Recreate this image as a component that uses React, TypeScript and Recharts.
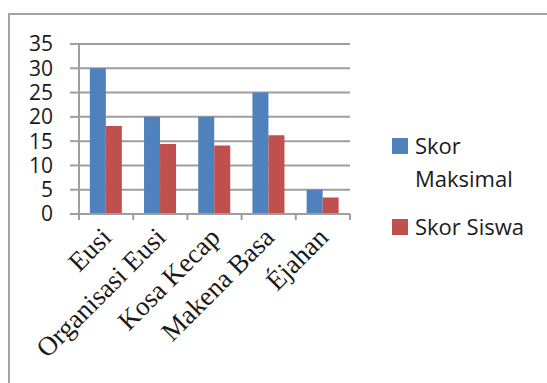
import { BarChart, Bar, XAxis, YAxis, CartesianGrid, Legend } from 'recharts';

const categories = ['Eusi', 'Organisasi Eusi', 'Kosa Kecap', 'Makena Basa', 'Éjahan'];
const skorMaksimal = [30, 20, 20, 25, 5];
const skorSiswa = [18.1, 14.4, 14.1, 16.2, 3.4];
const yTicks = [0, 5, 10, 15, 20, 25, 30, 35];

const seriesNames = { maks: 'Skor Maksimal', siswa: 'Skor Siswa' };
const BLUE = '#4f81bd';
const RED = '#c0504d';
const GRID = '#9e9e9e';
const SANS = "'Open Sans', sans-serif";

const data = categories.map((name, i) => ({
  name,
  maks: skorMaksimal[i],
  siswa: skorSiswa[i],
}));

const CHART_W = 547;
const CHART_H = 383;
const margin = { top: 44, right: 197, left: 0, bottom: 0 };
const Y_AXIS_W = 79;
const plotWidth = CHART_W - margin.left - margin.right - Y_AXIS_W;
const band = plotWidth / categories.length;

// category label rotated 45°, plus tick marks on the band edges
function CategoryTick(props: any) {
  const { x, y, payload, index } = props;
  const left = x - band / 2;
  const tx = x + 7;
  const ty = y + 25;
  return (
    <g>
      <line x1={left} y1={y} x2={left} y2={y + 6} stroke={GRID} strokeWidth={2} />
      {index === categories.length - 1 && (
        <line x1={x + band / 2} y1={y} x2={x + band / 2} y2={y + 6} stroke={GRID} strokeWidth={2} />
      )}
      <text
        x={tx}
        y={ty}
        transform={`rotate(-45, ${tx}, ${ty})`}
        textAnchor="end"
        fontFamily="'Liberation Serif', 'Times New Roman', serif"
        fontSize={27}
        fill="#1a1a1a"
      >
        {payload.value}
      </text>
    </g>
  );
}

function LegendBox() {
  const items = [
    { label: seriesNames.maks, color: BLUE },
    { label: seriesNames.siswa, color: RED },
  ];
  return (
    <div style={{ width: 150, fontFamily: SANS, fontSize: 22, color: '#1a1a1a' }}>
      {items.map((it, i) => (
        <div key={it.label} style={{ display: 'flex', alignItems: 'flex-start', marginTop: i ? 15 : 0 }}>
          <span
            style={{
              display: 'inline-block',
              width: 16,
              height: 16,
              background: it.color,
              marginTop: 9,
              marginRight: 7,
              flexShrink: 0,
            }}
          />
          <span style={{ width: 112, lineHeight: '33px' }}>{it.label}</span>
        </div>
      ))}
    </div>
  );
}

export default function App() {
  return (
    <div style={{ position: 'absolute', left: 0, top: 0, width: CHART_W, height: CHART_H, background: '#fff', overflow: 'hidden' }}>
      <div
        style={{
          position: 'absolute',
          left: 8,
          top: 13,
          width: CHART_W,
          height: CHART_H,
          borderLeft: '2px solid #a3a3a3',
          borderTop: '2px solid #a3a3a3',
        }}
      />
      <div style={{ position: 'absolute', left: 0, top: 0 }}>
        <BarChart
          width={CHART_W}
          height={CHART_H}
          data={data}
          margin={margin}
          barGap={0}
          barCategoryGap="20%"
        >
          <CartesianGrid vertical={false} stroke={GRID} strokeWidth={2} />
          <XAxis
            dataKey="name"
            interval={0}
            height={CHART_H - margin.top - 170}
            tickLine={false}
            tickSize={0}
            tickMargin={0}
            axisLine={{ stroke: GRID, strokeWidth: 2 }}
            tick={<CategoryTick />}
          />
          <YAxis
            width={Y_AXIS_W}
            domain={[0, 35]}
            ticks={yTicks}
            interval={0}
            tickSize={9}
            tickMargin={17}
            tickLine={{ stroke: GRID, strokeWidth: 2 }}
            axisLine={{ stroke: GRID, strokeWidth: 2 }}
            tick={{ fontFamily: SANS, fontSize: 21, fill: '#1a1a1a' }}
          />
          <Legend
            layout="vertical"
            verticalAlign="middle"
            align="center"
            wrapperStyle={{ left: 392, top: 129, width: 150 }}
            content={<LegendBox />}
          />
          <Bar dataKey="maks" name={seriesNames.maks} fill={BLUE} isAnimationActive={false} />
          <Bar dataKey="siswa" name={seriesNames.siswa} fill={RED} isAnimationActive={false} />
        </BarChart>
      </div>
    </div>
  );
}
